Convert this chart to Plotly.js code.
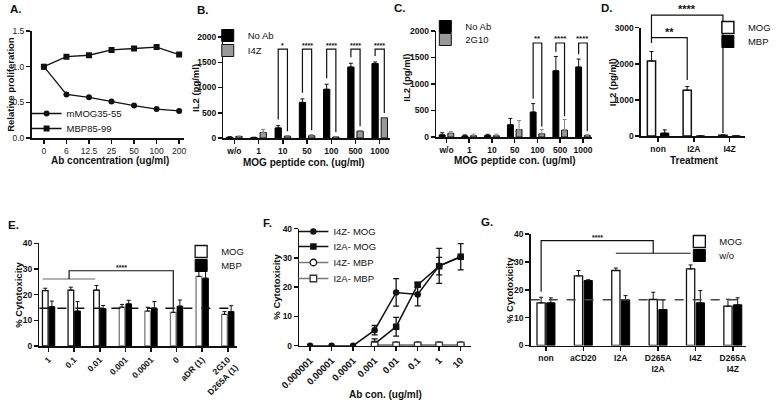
<!DOCTYPE html>
<html>
<head>
<meta charset="utf-8">
<script src="https://cdn.plot.ly/plotly-3.0.1.min.js"></script>
<style>
html, body { margin: 0; padding: 0; background: #fff; }
#chart { width: 776px; height: 400px; }
</style>
</head>
<body>
<div id="chart"></div>
<script>
// ---------- data ----------
// A. proliferation
const concA = ['0', '6', '12.5', '25', '50', '100', '200'];
const mogProlif = [1.0, 0.61, 0.57, 0.51, 0.455, 0.405, 0.38];
const mbpProlif = [1.0, 1.14, 1.16, 1.235, 1.255, 1.275, 1.17];

// B. IL2 with I4Z
const peptideCon = ['w/o', '1', '10', '50', '100', '500', '1000'];
const bNoAb = [15, 10, 200, 705, 965, 1405, 1475];
const bNoAbErr = [10, 5, 45, 70, 100, 75, 30];
const bI4Z = [30, 110, 35, 45, 20, 135, 400];
const bI4ZErr = [10, 60, 10, 20, 5, 10, 5];
const bStars = ['', '', '*', '****', '****', '****', '****'];

// C. IL2 with 2G10
const cNoAb = [40, 20, 30, 230, 470, 1250, 1320];
const cNoAbErr = [40, 20, 20, 120, 160, 270, 150];
const c2G10 = [70, 25, 25, 140, 60, 130, 30];
const c2G10Err = [30, 30, 30, 170, 80, 200, 20];
const cStars = ['', '', '', '', '**', '****', '****'];

// D. IL2 by treatment
const treatD = ['non', 'I2A', 'I4Z'];
const dMOG = [2080, 1270, 20];
const dMOGErr = [260, 100, 10];
const dMBP = [80, 0, 0];
const dMBPErr = [90, 0, 0];

// E. cytotoxicity by dose
const doseE = ['1', '0.1', '0.01', '0.001', '0.0001', '0', 'aDR (1)', '2G10<br>D265A (1)'];
const eMOG = [21.6, 21.8, 21.8, 15.1, 13.6, 13.1, 27.1, 12.3];
const eMOGErr = [0.9, 1.1, 1.8, 1.1, 1.5, 1.6, 1.9, 1.1];
const eMBP = [15.3, 13.6, 14.5, 16.4, 14.7, 15.5, 26.4, 13.4];
const eMBPErr = [2.2, 3.7, 1.3, 1.4, 2.6, 2.4, 3.9, 2.3];
const eBaseline = 14.7;

// F. cytotoxicity curves
const abConF = ['0.000001', '0.00001', '0.0001', '0.001', '0.01', '0.1', '1', '10'];
const i4zMOG = [0, 0, 0, 5.3, 18.2, 17.5, 27.3, 30.4];
const i4zMOGErr = [0, 0, 0, 1.6, 4.7, 3.9, 6.0, 0];
const i2aMOG = [null, null, null, 0.6, 6.5, 20.8, 27.2, 30.4];
const i2aMOGErr = [0, 0, 0, 1.7, 3.2, 0.8, 3.0, 4.5];
const i4zMBP = [null, null, null, 0.2, 0.2, 0.2, 0.2, 0.2];
const i2aMBP = [null, null, null, 0.1, 0.1, 0.1, 0.1, 0.1];

// G. cytotoxicity by treatment
const treatG = ['non', 'aCD20', 'I2A', 'D265A<br>I2A', 'I4Z', 'D265A<br>I4Z'];
const gMOG = [15.3, 25.0, 26.9, 16.5, 27.5, 14.1];
const gMOGErr = [2.0, 1.9, 0.9, 2.6, 1.4, 2.5];
const gWo = [15.3, 23.3, 16.4, 12.9, 15.3, 14.6];
const gWoErr = [1.8, 0.3, 1.5, 3.5, 4.4, 2.5];
const gBaseline = 16.4;

// ---------- layout helpers ----------
const W = 776, H = 400;
const FONT = 'Liberation Sans Narrow, Arial Narrow, Liberation Sans, Arial, sans-serif';

// plot frames in pixels
const fA = {px: [32, 187], py: [31, 138], xr: [-0.55, 6.22], yr: [0, 1.5]};
const fB = {px: [227, 396], py: [37, 138], xr: [-0.45, 6.42], yr: [0, 2000]};
const fC = {px: [443, 601], py: [31, 137], xr: [-0.455, 6.385], yr: [0, 2000]};
const fD = {px: [651, 757], py: [27.7, 136], xr: [-0.48, 2.44], yr: [0, 3000]};
const fE = {px: [40, 241], py: [243.3, 346], xr: [-0.36, 7.37], yr: [0, 40]};
const fF = {px: [304, 478], py: [228.7, 345.7], xr: [-0.5, 7.46], yr: [0, 40]};
const fG = {px: [539, 758], py: [234, 345.5], xr: [-0.41, 5.36], yr: [0, 40]};

function X(f, v) { return (f.px[0] + (v - f.xr[0]) / (f.xr[1] - f.xr[0]) * (f.px[1] - f.px[0])) / W; }
function Y(f, v) { return 1 - (f.py[1] - (v - f.yr[0]) / (f.yr[1] - f.yr[0]) * (f.py[1] - f.py[0])) / H; }
function px(x) { return x / W; }
function py(y) { return 1 - y / H; }

const zeros = n => new Array(n).fill(0);

function xAxis(f, anchor, opts) {
    return Object.assign({
        domain: [f.px[0] / W, f.px[1] / W], anchor: anchor, type: 'category', range: f.xr,
        showline: true, linecolor: '#111', linewidth: 1.5, ticks: 'outside', ticklen: 4, tickwidth: 1.5,
        tickcolor: '#111', showgrid: false, zeroline: false,
        tickfont: {family: FONT, size: 8.5, color: '#111', weight: 'bold'}
    }, opts || {});
}
function yAxis(f, anchor, opts) {
    return Object.assign({
        domain: [1 - f.py[1] / H, 1 - f.py[0] / H], anchor: anchor, range: f.yr,
        showline: true, linecolor: '#111', linewidth: 1.5, ticks: 'outside', ticklen: 4, tickwidth: 1.5,
        tickcolor: '#111', showgrid: false, zeroline: false,
        tickfont: {family: FONT, size: 8.5, color: '#111', weight: 'bold'}
    }, opts || {});
}
function upErr(arr, color) {
    return {type: 'data', symmetric: false, array: arr, arrayminus: zeros(arr.length),
        color: color || '#111', thickness: 1, width: 2};
}
function bothErr(arr) {
    return {type: 'data', array: arr, color: '#111', thickness: 1.3, width: 3};
}
// one legend per entry so every row sits where the reference has it
// (left = text start - 40, top = row centre - 11)
function legendAt(textX, rowY) {
    return {x: px(textX - 40), y: py(rowY - 11), xanchor: 'left', yanchor: 'top', bgcolor: 'rgba(0,0,0,0)',
        font: {family: FONT, size: 9.5, color: '#111'}, itemwidth: 30};
}

// ---------- traces ----------
const data = [];

// A
data.push({x: concA, y: mogProlif, name: 'mMOG35-55', type: 'scatter', mode: 'lines+markers',
    line: {color: '#111', width: 1.3}, marker: {symbol: 'circle', size: 6, color: '#111'},
    xaxis: 'x', yaxis: 'y', legend: 'legend'});
data.push({x: concA, y: mbpProlif, name: 'MBP85-99', type: 'scatter', mode: 'lines+markers',
    line: {color: '#111', width: 1.3}, marker: {symbol: 'square', size: 6, color: '#111'},
    xaxis: 'x', yaxis: 'y', legend: 'legend2'});

// B
data.push({x: peptideCon, y: bNoAb, name: 'No Ab', type: 'bar', offset: -0.32, width: 0.26,
    marker: {color: '#000', line: {color: '#000', width: 1}}, error_y: upErr(bNoAbErr),
    xaxis: 'x2', yaxis: 'y2', legend: 'legend3'});
data.push({x: peptideCon, y: bI4Z, name: 'I4Z', type: 'bar', offset: 0.06, width: 0.26,
    marker: {color: '#999', line: {color: '#111', width: 1}}, error_y: upErr(bI4ZErr, '#777'),
    xaxis: 'x2', yaxis: 'y2', legend: 'legend4'});

// C
data.push({x: peptideCon, y: cNoAb, name: 'No Ab', type: 'bar', offset: -0.32, width: 0.26,
    marker: {color: '#000', line: {color: '#000', width: 1}}, error_y: upErr(cNoAbErr),
    xaxis: 'x3', yaxis: 'y3', legend: 'legend5'});
data.push({x: peptideCon, y: c2G10, name: '2G10', type: 'bar', offset: 0.06, width: 0.26,
    marker: {color: '#999', line: {color: '#111', width: 1}}, error_y: upErr(c2G10Err, '#888'),
    xaxis: 'x3', yaxis: 'y3', legend: 'legend6'});

// D
data.push({x: treatD, y: dMOG, name: 'MOG', type: 'bar', offset: -0.30, width: 0.23,
    marker: {color: '#fff', line: {color: '#111', width: 1.5}}, error_y: upErr(dMOGErr),
    xaxis: 'x4', yaxis: 'y4', legend: 'legend7'});
data.push({x: treatD, y: dMBP, name: 'MBP', type: 'bar', offset: 0.07, width: 0.23,
    marker: {color: '#000', line: {color: '#000', width: 1}}, error_y: upErr(dMBPErr),
    xaxis: 'x4', yaxis: 'y4', legend: 'legend8'});

// E
data.push({x: doseE, y: eMOG, name: 'MOG', type: 'bar', offset: -0.24, width: 0.22,
    marker: {color: '#fff', line: {color: ['#111', '#111', '#111', '#777', '#777', '#777', '#777', '#777'], width: 1.3}},
    error_y: upErr(eMOGErr), xaxis: 'x5', yaxis: 'y5', legend: 'legend9'});
data.push({x: doseE, y: eMBP, name: 'MBP', type: 'bar', offset: 0.02, width: 0.22,
    marker: {color: '#000', line: {color: '#000', width: 1}}, error_y: upErr(eMBPErr),
    xaxis: 'x5', yaxis: 'y5', legend: 'legend10'});

// F
data.push({x: abConF, y: i4zMOG, name: 'I4Z- MOG', type: 'scatter', mode: 'lines+markers',
    line: {color: '#111', width: 1.5}, marker: {symbol: 'circle', size: 6.5, color: '#111'},
    error_y: bothErr(i4zMOGErr), xaxis: 'x6', yaxis: 'y6', legend: 'legend11'});
data.push({x: abConF, y: i2aMOG, name: 'I2A- MOG', type: 'scatter', mode: 'lines+markers',
    line: {color: '#111', width: 1.5}, marker: {symbol: 'square', size: 6.5, color: '#111'},
    error_y: bothErr(i2aMOGErr), xaxis: 'x6', yaxis: 'y6', legend: 'legend12'});
data.push({x: abConF, y: i4zMBP, name: 'I4Z- MBP', type: 'scatter', mode: 'lines+markers',
    line: {color: '#777', width: 1.5}, marker: {symbol: 'circle', size: 6.5, color: '#fff', line: {color: '#111', width: 1.3}},
    xaxis: 'x6', yaxis: 'y6', legend: 'legend13'});
data.push({x: abConF, y: i2aMBP, name: 'I2A- MBP', type: 'scatter', mode: 'lines+markers',
    line: {color: '#777', width: 1.5}, marker: {symbol: 'square', size: 6.5, color: '#fff', line: {color: '#333', width: 1.3}},
    xaxis: 'x6', yaxis: 'y6', legend: 'legend14'});

// G
data.push({x: treatG, y: gMOG, name: 'MOG', type: 'bar', offset: -0.24, width: 0.22,
    marker: {color: '#fff', line: {color: '#111', width: 1.3}}, error_y: upErr(gMOGErr),
    xaxis: 'x7', yaxis: 'y7', legend: 'legend15'});
data.push({x: treatG, y: gWo, name: 'w/o', type: 'bar', offset: 0.02, width: 0.22,
    marker: {color: '#000', line: {color: '#000', width: 1}}, error_y: upErr(gWoErr),
    xaxis: 'x7', yaxis: 'y7', legend: 'legend16'});

// ---------- shapes & annotations ----------
const shapes = [];
const annotations = [];

function bracket(f, pts, color) {
    const path = 'M' + pts.map(p => X(f, p[0]).toFixed(5) + ',' + Y(f, p[1]).toFixed(5)).join('L');
    return {type: 'path', xref: 'paper', yref: 'paper', path: path, line: {color: color || '#111', width: 1.2}};
}
function stars(f, xv, yv, text, size) {
    return {xref: 'paper', yref: 'paper', x: X(f, xv), y: Y(f, yv), text: text, showarrow: false,
        xanchor: 'center', yanchor: 'bottom', yshift: -2,
        font: {family: FONT, size: size || 8, color: '#111', weight: 'bold'}};
}
function label(x, y, text, size, angle, weight) {
    return {xref: 'paper', yref: 'paper', x: px(x), y: py(y), text: text, showarrow: false,
        xanchor: 'center', yanchor: 'middle', textangle: angle || 0,
        font: {family: FONT, size: size, color: '#111', weight: weight || 'bold'}};
}

// B brackets
const bTop = 1760;
bStars.forEach((s, i) => {
    if (!s) return;
    const l = i - 0.19, r = i + 0.19;
    shapes.push(bracket(fB, [[l, bNoAb[i] + bNoAbErr[i] + 120], [l, bTop], [r, bTop], [r, bI4Z[i] + bI4ZErr[i] + 90]]));
    annotations.push(stars(fB, i, bTop, s, 7));
});

// C brackets
const cTop = 1774;
cStars.forEach((s, i) => {
    if (!s) return;
    const l = i - 0.19, r = i + 0.19;
    shapes.push(bracket(fC, [[l, cNoAb[i] + cNoAbErr[i] + 90], [l, cTop], [r, cTop], [r, c2G10[i] + c2G10Err[i] + 60]]));
    annotations.push(stars(fC, i, cTop, s, 8));
});

// D brackets
shapes.push(bracket(fD, [[-0.185, 2576], [-0.185, 3351], [1.815, 3351], [1.815, dMOG[2] + dMOGErr[2] + 50]]));
shapes.push(bracket(fD, [[-0.185, 2723], [0.815, 2723], [0.815, dMOG[1] + dMOGErr[1] + 180]]));
annotations.push(stars(fD, 0.815, 3351, '****', 11));
annotations.push(stars(fD, 0.315, 2723, '**', 11));

// E bracket and baseline
shapes.push(bracket(fE, [[-0.23, 26.1], [1.82, 26.1]], '#666'));
shapes.push(bracket(fE, [[0.8, 26.1], [0.8, 29.3], [4.87, 29.3], [4.87, eMOG[5] + eMOGErr[5] + 0.3]]));
annotations.push(stars(fE, 2.83, 29.3, '****', 7));
shapes.push({type: 'line', xref: 'x5 domain', yref: 'y5', x0: 0, x1: 1, y0: eBaseline, y1: eBaseline,
    line: {color: '#111', width: 1.5, dash: 'dash'}});

// G bracket and baseline
shapes.push(bracket(fG, [[-0.13, gMOG[0] + gMOGErr[0] + 2], [-0.13, 37.6], [2.87, 37.6], [2.87, 33.1]]));
shapes.push(bracket(fG, [[1.87, 33.1], [3.87, 33.1]]));
annotations.push(stars(fG, 1.37, 37.6, '****', 7));
shapes.push({type: 'line', xref: 'x7 domain', yref: 'y7', x0: 0, x1: 1, y0: gBaseline, y1: gBaseline,
    line: {color: '#444', width: 1.5, dash: 'dash'}});

// panel letters
annotations.push(label(16, 9, 'A.', 11.5));
annotations.push(label(206, 10, 'B.', 11.5));
annotations.push(label(406, 8, 'C.', 11.5));
annotations.push(label(617, 8, 'D.', 11.5));
annotations.push(label(14, 225, 'E.', 11.5));
annotations.push(label(272, 223, 'F.', 11.5));
annotations.push(label(495, 222, 'G.', 11.5));

// axis titles
annotations.push(label(112, 160, 'Ab concentration (ug/ml)', 10));
annotations.push(label(11, 84, 'Relative proliferation', 9.5, -90));
annotations.push(label(309, 162, 'MOG peptide con. (ug/ml)', 10));
annotations.push(label(199, 88, 'IL2 (pg/ml)', 9.5, -90));
annotations.push(label(523, 160, 'MOG peptide con. (ug/ml)', 10));
annotations.push(label(412, 78, 'IL2 (pg/ml)', 9.5, -90));
annotations.push(label(705, 160, 'Treatment', 10));
annotations.push(label(623, 82, 'IL2 (pg/ml)', 9.5, -90));
annotations.push(label(18, 295, '% Cytotoxicity', 9.5, -90));
annotations.push(label(280, 287, '% Cytotoxicity', 9.5, -90));
annotations.push(label(392, 394, 'Ab con. (ug/ml)', 10));
annotations.push(label(517, 290, '% Cytotoxicity', 9.5, -90));

// ---------- layout ----------
const normalTick = {family: FONT, size: 8.5, color: '#222'};
const rotTickE = {family: FONT, size: 8.5, color: '#111', weight: 'bold'};
const rotTickF = {family: FONT, size: 9.5, color: '#111', weight: 'bold'};
const layout = {
    width: W, height: H,
    margin: {l: 0, r: 0, t: 0, b: 0},
    paper_bgcolor: '#fff', plot_bgcolor: 'rgba(0,0,0,0)',
    font: {family: FONT, size: 9, color: '#111'},
    showlegend: true,
    barmode: 'overlay',
    xaxis: xAxis(fA, 'y', {tickfont: normalTick}),
    yaxis: yAxis(fA, 'x', {tickvals: [0, 0.5, 1, 1.5], tickformat: '.1f', tickfont: normalTick}),
    xaxis2: xAxis(fB, 'y2'),
    yaxis2: yAxis(fB, 'x2', {tickvals: [0, 500, 1000, 1500, 2000]}),
    xaxis3: xAxis(fC, 'y3'),
    yaxis3: yAxis(fC, 'x3', {tickvals: [0, 500, 1000, 1500, 2000]}),
    xaxis4: xAxis(fD, 'y4'),
    yaxis4: yAxis(fD, 'x4', {tickvals: [0, 1000, 2000, 3000]}),
    xaxis5: xAxis(fE, 'y5', {tickangle: -45, tickfont: rotTickE}),
    yaxis5: yAxis(fE, 'x5', {tickvals: [0, 10, 20, 30, 40]}),
    xaxis6: xAxis(fF, 'y6', {tickangle: -45, tickfont: rotTickF}),
    yaxis6: yAxis(fF, 'x6', {tickvals: [0, 10, 20, 30, 40]}),
    xaxis7: xAxis(fG, 'y7'),
    yaxis7: yAxis(fG, 'x7', {tickvals: [0, 10, 20, 30, 40]}),
    legend: legendAt(67, 110),
    legend2: legendAt(67, 125),
    legend3: legendAt(251, 32),
    legend4: legendAt(251, 47),
    legend5: legendAt(472, 23),
    legend6: legendAt(472, 36),
    legend7: legendAt(759, 24),
    legend8: legendAt(759, 38),
    legend9: legendAt(224, 248),
    legend10: legendAt(224, 262),
    legend11: legendAt(338, 228),
    legend12: legendAt(338, 243),
    legend13: legendAt(338, 259),
    legend14: legendAt(338, 275),
    legend15: legendAt(730, 238),
    legend16: legendAt(730, 252),
    shapes: shapes,
    annotations: annotations
};

Plotly.newPlot('chart', data, layout, {displayModeBar: false, staticPlot: true});
</script>
</body>
</html>
